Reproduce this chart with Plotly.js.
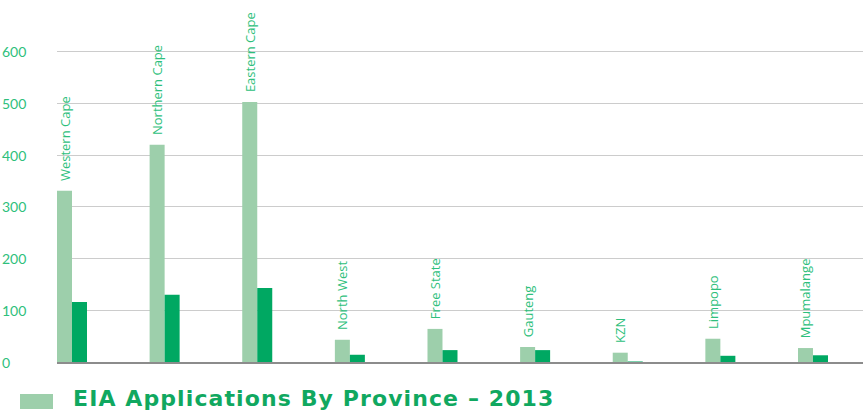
<!DOCTYPE html>
<html>
<head>
<meta charset="utf-8">
<script src="https://cdn.plot.ly/plotly-3.0.1.min.js"></script>
<style>html,body{margin:0;padding:0;background:#fff;}#chart{width:863px;height:410px;}</style>
</head>
<body>
<div id="chart"></div>
<script>
const provinces = ["Western Cape","Northern Cape","Eastern Cape","North West","Free State","Gauteng","KZN","Limpopo","Mpumalange"];
const seriesA = [331, 420, 503, 43, 64, 29, 18, 45, 27];
const seriesB = [116, 130, 143, 14, 23, 23, 1, 12, 13];
const yTicks = [0, 100, 200, 300, 400, 500, 600];
const chartTitle = "EIA Applications By Province – 2013";

const labelGreen = "#2ebf7c";
const traces = [
  {
    type: "bar", x: provinces, y: seriesA, name: "A",
    marker: {color: "#9dcfab"},
    text: provinces.map(p => "\u00a0\u00a0" + p), textposition: "outside", textangle: -90,
    constraintext: "none", cliponaxis: false,
    textfont: {family: "'Open Sans', sans-serif", size: 13, color: labelGreen},
    hoverinfo: "x+y"
  },
  {
    type: "bar", x: provinces, y: seriesB, name: "B",
    marker: {color: "#00a862"},
    hoverinfo: "x+y"
  }
];

const annotations = yTicks.map(v => ({
  xref: "paper", yref: "y", x: -0.0707, y: v,
  xanchor: "left", yanchor: "middle", showarrow: false,
  text: String(v), font: {family: "Lato, sans-serif", size: 14, color: labelGreen}
}));

const layout = {
  width: 863, height: 410,
  margin: {l: 57, r: 0, t: 0, b: 48},
  paper_bgcolor: "#fff", plot_bgcolor: "#fff",
  showlegend: false,
  barmode: "group", bargap: 0.676, bargroupgap: 0,
  xaxis: {
    type: "category", range: [-0.162, 8.54],
    showticklabels: false, ticks: "", showgrid: false,
    showline: true, linecolor: "#8c8c8c", linewidth: 2, zeroline: false
  },
  yaxis: {
    range: [0, 700], tickvals: yTicks, showticklabels: false,
    showgrid: true, gridcolor: "#cccccc", gridwidth: 1, zeroline: false, ticks: ""
  },
  title: {
    text: "<span style=\"letter-spacing:1.1px\"><b>" + chartTitle + "</b></span>",
    xref: "container", yref: "container", x: 73/863, xanchor: "left",
    y: 1 - 398/410, yanchor: "middle",
    font: {family: "'DejaVu Sans', sans-serif", size: 22, color: "#10a860"}
  },
  shapes: [{
    type: "rect", xref: "paper", yref: "paper",
    x0: (20-57)/806, x1: (53-57)/806, y0: (362-409)/362, y1: (362-394)/362,
    fillcolor: "#9dcfab", line: {width: 0}
  }],
  annotations: annotations
};

Plotly.newPlot("chart", traces, layout, {displayModeBar: false, staticPlot: true});
</script>
</body>
</html>
